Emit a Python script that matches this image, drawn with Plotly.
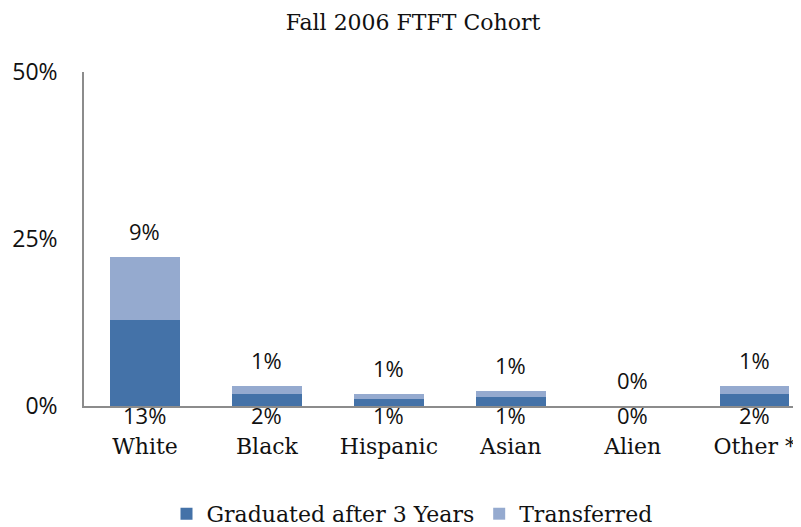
import plotly.graph_objects as go

categories = ["White", "Black", "Hispanic", "Asian", "Alien", "Other *"]
graduated = [12.9, 1.8, 1.0, 1.3, 0.0, 1.8]
transferred = [9.4, 1.2, 0.8, 0.9, 0.0, 1.2]
y_ticks = [0, 25, 50]
y_tick_labels = ["0%", "25%", "50%"]

DARK = "#4472A8"
LIGHT = "#95AACF"
SERIF = "DejaVu Serif, serif"
SANS = "Open Sans, Liberation Sans, sans-serif"

# page body has an 8px margin, so the figure is 8px smaller than the window
W, H = 793, 519

fig = go.Figure()
fig.add_trace(go.Bar(x=categories, y=graduated, name="Graduated after 3 Years",
                     marker=dict(color=DARK, line=dict(width=0)), width=0.57))
fig.add_trace(go.Bar(x=categories, y=transferred, name="Transferred",
                     marker=dict(color=LIGHT, line=dict(width=0)), width=0.57))

annotations = []
for c, g, t in zip(categories, graduated, transferred):
    annotations.append(dict(x=c, y=g + t, text=f"{t:.0f}%", showarrow=False,
                            yanchor="bottom", yshift=9,
                            font=dict(family=SANS, size=22, color="#111")))
    annotations.append(dict(x=c, y=0, text=f"{g:.0f}%", showarrow=False,
                            yanchor="top", yshift=8,
                            font=dict(family=SANS, size=22, color="#111")))

fig.update_layout(
    barmode="stack",
    width=W, height=H,
    margin=dict(l=76, r=0, t=64, b=121, autoexpand=False),
    paper_bgcolor="white", plot_bgcolor="white",
    title=dict(text="Fall 2006 FTFT Cohort", x=405 / W, xanchor="center",
               xref="container", y=1 - 14 / H, yanchor="middle", yref="container",
               font=dict(family=SERIF, size=22, color="#111")),
    showlegend=True,
    legend=dict(orientation="h", x=404 / W, xanchor="center", xref="container",
                y=-0.323, yanchor="middle", font=dict(family=SERIF, size=22, color="#111"),
                traceorder="normal", itemwidth=30, tracegroupgap=0),
    bargap=0.43,
    annotations=annotations,
)
fig.update_xaxes(range=[-0.5, 5.38], showline=True, linecolor="#8c8c8c", linewidth=1.5,
                 ticks="", showgrid=False, ticklabelstandoff=20, automargin=False,
                 tickfont=dict(family=SERIF, size=22, color="#111"), fixedrange=True)
fig.update_yaxes(range=[0, 50], tickvals=y_ticks, ticktext=y_tick_labels,
                 showline=True, linecolor="#8c8c8c", linewidth=1.5, showgrid=False,
                 zeroline=False, ticks="", ticklabelstandoff=20, automargin=False,
                 tickfont=dict(family=SANS, size=23, color="#111"))

fig.write_html("out.html")
